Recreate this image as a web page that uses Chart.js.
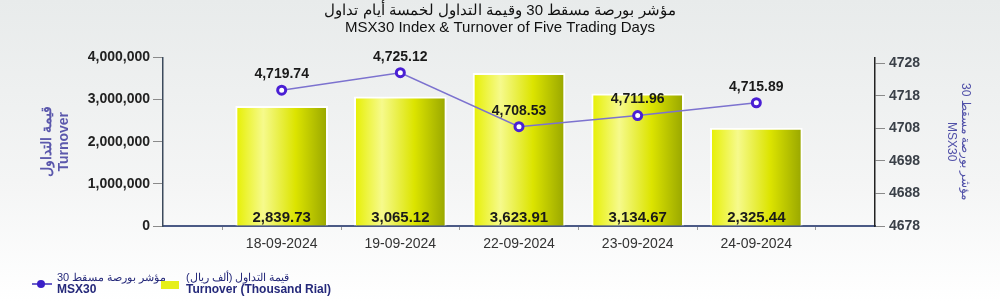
<!DOCTYPE html>
<html>
<head>
<meta charset="utf-8">
<script src="https://cdn.jsdelivr.net/npm/chart.js@4.4.1/dist/chart.umd.min.js"></script>
<style>
  html, body { margin: 0; padding: 0; }
  body {
    width: 1000px; height: 302px; position: relative; overflow: hidden;
    background: linear-gradient(#e8ebeb, #f4f5f5 60%, #ffffff);
    font-family: "Liberation Sans", Arial, sans-serif;
  }
  #chart { position: absolute; left: 0; top: 0; }
  .lineMark { position: absolute; left: 32px; top: 283px; width: 20px; height: 2px; background: #6a5fc8; }
  .lineDot { position: absolute; left: 37px; top: 280px; width: 8px; height: 8px; border-radius: 50%; background: #3a1fc8; }
  .barMark { position: absolute; left: 161px; top: 281px; width: 18px; height: 8px; background: #e6ef1a; }
  .txt { position: absolute; top: 271px; color: #25297a; }
  .txt .ar { font-size: 11px; line-height: 12px; text-align: left; }
  .txt .en { font-size: 12px; font-weight: bold; line-height: 13px; }
</style>
</head>
<body>
<canvas id="chart" width="1000" height="302"></canvas>

<div class="lineMark"></div>
<div class="lineDot"></div>
<div class="txt" style="left:57px"><div class="ar" dir="rtl">مؤشر بورصة مسقط 30</div><div class="en">MSX30</div></div>

<div class="barMark"></div>
<div class="txt" style="left:186px"><div class="ar" dir="rtl">قيمة التداول (ألف ريال)</div><div class="en">Turnover (Thousand Rial)</div></div>

<script>
const dates = ["18-09-2024", "19-09-2024", "22-09-2024", "23-09-2024", "24-09-2024"];
// turnover plotted on the left axis (labels show it in thousands)
const turnover = [2839730, 3065120, 3623910, 3134670, 2325440];
const msx30 = [4719.74, 4725.12, 4708.53, 4711.96, 4715.89];
const rightTicks = [4678, 4688, 4698, 4708, 4718, 4728];

// empty slot at each end, like the original
const xLabels = ["", ...dates, ""];

Chart.defaults.font.family = '"Liberation Sans", Arial, sans-serif';

function barFill(c) {
    const chart = c.chart;
    if (!chart.chartArea || c.dataIndex == null) return "#e5ee20";
    const cx = chart.scales.x.getPixelForValue(c.dataIndex);
    const g = chart.ctx.createLinearGradient(cx - 46, 0, cx + 46, 0);
    g.addColorStop(0, "#e6ef00");
    g.addColorStop(0.3, "#f6fa8c");
    g.addColorStop(0.65, "#dce400");
    g.addColorStop(1, "#98a600");
    return g;
}

const fmt2 = v => v.toLocaleString("en-US", { minimumFractionDigits: 2, maximumFractionDigits: 2 });

// value labels on bars and points
const valueLabels = {
    id: "valueLabels",
    afterDatasetsDraw(chart) {
        const ctx = chart.ctx;
        ctx.save();
        ctx.textAlign = "center";
        ctx.textBaseline = "middle";
        ctx.fillStyle = "#1a1a1a";

        ctx.font = 'bold 15px "Liberation Sans", Arial, sans-serif';
        chart.getDatasetMeta(1).data.forEach((el, i) => {
            const v = chart.data.datasets[1].data[i];
            if (v == null) return;
            ctx.fillText(fmt2(v / 1000), el.x, chart.scales.y.bottom - 8);
        });

        ctx.font = 'bold 14px "Liberation Sans", Arial, sans-serif';
        chart.getDatasetMeta(0).data.forEach((el, i) => {
            const v = chart.data.datasets[0].data[i];
            if (v == null) return;
            ctx.fillText(fmt2(v), el.x, el.y - 16);
        });
        ctx.restore();
    }
};

new Chart(document.getElementById("chart"), {
    data: {
        labels: xLabels,
        datasets: [
            {
                type: "line",
                label: "MSX30",
                data: [null, ...msx30, null],
                yAxisID: "y1",
                borderColor: "#7c72cf",
                borderWidth: 1.5,
                pointRadius: 4,
                pointBorderWidth: 3,
                pointBackgroundColor: "#ffffff",
                pointBorderColor: "#4a1fd4",
                order: 0
            },
            {
                type: "bar",
                label: "Turnover",
                data: [null, ...turnover, null],
                yAxisID: "y",
                backgroundColor: barFill,
                borderColor: "rgba(255,255,255,0.95)",
                borderWidth: 2,
                barThickness: 92,
                order: 1
            }
        ]
    },
    options: {
        responsive: false,
        animation: false,
        layout: { padding: 0 },
        plugins: {
            legend: { display: false },
            tooltip: { enabled: false },
            title: {
                display: true,
                text: ["مؤشر بورصة مسقط 30 وقيمة التداول لخمسة أيام تداول", "MSX30 Index & Turnover of Five Trading Days"],
                color: "#111",
                font: { size: 15, weight: "normal", lineHeight: 1.15 },
                padding: { top: 2, bottom: 21 }
            }
        },
        scales: {
            x: {
                type: "category",
                offset: false,
                grid: { drawOnChartArea: false, tickLength: 4, color: "#9a9a9a" },
                border: { color: "#4b5a85", width: 2 },
                ticks: { color: "#333", font: { size: 14 }, padding: 6, maxRotation: 0, autoSkip: false },
                afterFit: s => { s.height = 76; }
            },
            y: {
                position: "left",
                min: 0,
                max: 4000000,
                grid: { drawOnChartArea: false, tickLength: 10, color: "#8a8a8a" },
                border: { color: "#3c4a5c", width: 1.5 },
                ticks: {
                    stepSize: 1000000,
                    color: "#222",
                    font: { size: 14, weight: "bold" },
                    padding: 3,
                    callback: v => v.toLocaleString("en-US")
                },
                title: {
                    display: true,
                    text: ["قيمة التداول", "Turnover"],
                    color: "#5b58ac",
                    font: { size: 14, weight: "bold" },
                    padding: { top: 39, bottom: 0 }
                },
                afterFit: s => { s.width = 163; }
            },
            y1: {
                position: "right",
                min: 4678,
                max: 4729.8,
                afterBuildTicks: s => { s.ticks = rightTicks.map(v => ({ value: v })); },
                grid: { drawOnChartArea: false, tickLength: 10, color: "#8a8a8a" },
                border: { color: "#222", width: 1.5 },
                ticks: {
                    color: "#3a4048",
                    font: { size: 14, weight: "bold" },
                    padding: 4,
                    callback: v => String(v)
                },
                title: {
                    display: true,
                    text: ["مؤشر بورصة مسقط 30", "MSX30"],
                    color: "#5050a8",
                    font: { size: 12 },
                    padding: { top: 27, bottom: 0 }
                },
                afterFit: s => { s.width = 125; }
            }
        }
    },
    plugins: [valueLabels]
});
</script>
</body>
</html>
